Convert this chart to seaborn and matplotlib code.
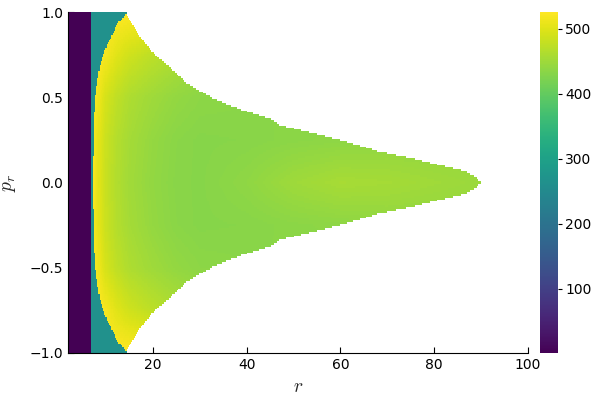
import numpy as np
import matplotlib
matplotlib.use("Agg")
from matplotlib import pyplot as plt
from matplotlib.colors import Normalize
import seaborn as sns

# value levels
v_min, v_max = 1.5, 526.0
v_plunge = 1.5       # purple strip
v_capture = 265.0    # teal band

r_plunge = 6.8       # right edge of the purple strip

# outer edge of the coloured region (|p_r| -> r)
outer_p = [0.0, 0.03, 0.063, 0.093, 0.142, 0.18, 0.24, 0.30, 0.337, 0.367,
           0.407, 0.445, 0.494, 0.582, 0.66, 0.76, 0.858, 0.975, 1.0]
outer_r = [90.1, 89.0, 86.9, 82.6, 75.4, 68.4, 61.3, 52.5, 47.1, 45.6,
           41.3, 37.1, 32.8, 27.2, 24.3, 20.1, 17.2, 14.5, 14.4]

# inner edge between the teal band and the bound region (|p_r| -> r)
inner_p = [0.0, 0.3, 0.484, 0.6, 0.68, 0.78, 0.877, 0.937, 0.975, 1.0]
inner_r = [7.2, 7.35, 7.63, 8.2, 8.7, 9.8, 11.5, 12.6, 14.0, 14.5]

# coarse readings of the bound region
field_r = [7, 8, 10, 12, 15, 20, 25, 30, 40, 50, 60, 70, 80, 90]
field_p = [0.0, 0.25, 0.5, 0.75, 1.0]
field_vals = [
    [526, 508, 482, 466, 452, 440, 433, 431, 438, 450, 457, 455, 451, 447],
    [526, 510, 484, 468, 455, 442, 434, 431, 432, 435, 437, 439, 439, 439],
    [526, 518, 492, 477, 462, 450, 441, 436, 434, 434, 434, 434, 434, 434],
    [526, 526, 518, 503, 488, 473, 462, 452, 448, 448, 448, 448, 448, 448],
    [526, 526, 526, 526, 526, 526, 526, 526, 526, 526, 526, 526, 526, 526],
]

sns.set_theme(style="white")
plt.rcParams["mathtext.fontset"] = "cm"
plt.rcParams["font.family"] = ["DejaVu Sans"]

# grid of the heatmap
r_edges = np.arange(1.9, 100.0001, 0.25)
p_edges = np.linspace(-1, 1, 181)
rc = 0.5 * (r_edges[1:] + r_edges[:-1])
pc = 0.5 * (p_edges[1:] + p_edges[:-1])
R, P = np.meshgrid(rc, pc)
A = np.abs(P)

r_out = np.interp(A, outer_p, outer_r)
r_in = np.interp(A, inner_p, inner_r)

vals = np.array(field_vals, dtype=float)
# along r for each p row, then along p
rows = np.array([np.interp(R, field_r, row) for row in vals])
Z = np.empty_like(R)
for i in range(R.shape[0]):
    for j in range(R.shape[1]):
        Z[i, j] = np.interp(A[i, j], field_p, rows[:, i, j])

Z = np.where(R < r_in, v_capture, Z)
Z = np.where(R < r_plunge, v_plunge, Z)
Z = np.where((R > r_out) & (R >= r_plunge), np.nan, Z)

cmap = sns.color_palette("viridis", as_cmap=True)
norm = Normalize(v_min, v_max)

fig = plt.figure(figsize=(6, 4), dpi=100)
ax = fig.add_axes([0.1133, 0.1175, 0.7667, 0.8525])
cax = fig.add_axes([0.9, 0.1175, 0.03, 0.8525])

mesh = ax.pcolormesh(r_edges, p_edges, np.ma.masked_invalid(Z), cmap=cmap,
                     norm=norm, shading="flat", rasterized=True)
ax.set_xlim(1.9, 100)
ax.set_ylim(-1, 1)
ax.set_xticks([20, 40, 60, 80, 100])
ax.set_yticks([-1.0, -0.5, 0.0, 0.5, 1.0])
ax.set_yticklabels(["\u22121.0", "\u22120.5", "0.0", "0.5", "1.0"])
ax.tick_params(direction="in", length=4, width=0.8, labelsize=10,
               colors="black", bottom=True, left=True)
for s in ["top", "right"]:
    ax.spines[s].set_visible(False)
for s in ["left", "bottom"]:
    ax.spines[s].set_color("black")
    ax.spines[s].set_linewidth(0.8)
ax.set_xlabel("$r$", fontsize=14, labelpad=4)
ax.set_ylabel("$p_r$", fontsize=14, labelpad=8)

cb = fig.colorbar(mesh, cax=cax)
cb.outline.set_visible(False)
cb.set_ticks([100, 200, 300, 400, 500])
cax.tick_params(direction="out", length=3, width=0.8, labelsize=10,
                pad=2, right=True, colors="black")

fig.savefig("out.png", dpi=100)
